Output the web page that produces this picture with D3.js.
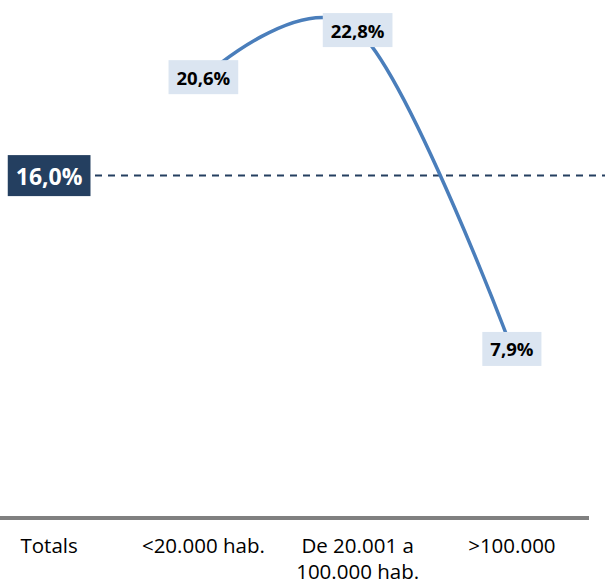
<!DOCTYPE html>
<html>
<head>
<meta charset="utf-8">
<script src="https://cdn.jsdelivr.net/npm/d3@7/dist/d3.min.js"></script>
<style>
  html, body { margin: 0; padding: 0; background: #ffffff; }
  svg { display: block; }
</style>
</head>
<body>
<div id="chart"></div>
<script>
// ---- data ----
const categories = ["Totals", "<20.000 hab.", "De 20.001 a 100.000 hab.", ">100.000"];
const totalValue = 16.0;
const seriesCategories = ["<20.000 hab.", "De 20.001 a 100.000 hab.", ">100.000"];
const seriesValues = [20.6, 22.8, 7.9];
const yDomain = [0, 25];

const fmt = v => d3.format(".1f")(v).replace(".", ",") + "%";

// ---- layout ----
const W = 605, H = 587;
const svg = d3.select("#chart").append("svg").attr("width", W).attr("height", H);

const x = d3.scalePoint().domain(categories).range([-28, 589]).padding(0.5);
const y = d3.scaleLinear().domain(yDomain).range([518, 518 - 25 * 21.4]);

const FONT = "'Open Sans', 'Noto Sans', sans-serif";

// axis line
const axis = svg.append("g").attr("transform", `translate(0,${y(0)})`)
  .call(d3.axisBottom(x).tickSize(0).tickPadding(0).tickFormat(""));
axis.select(".domain").attr("d", `M0,0H589`).attr("stroke", "#808080").attr("stroke-width", 4);

// category labels with wrapping
const lab = svg.append("g");
categories.forEach(c => {
  const t = lab.append("text")
    .attr("x", x(c)).attr("y", 553)
    .attr("text-anchor", "middle")
    .attr("font-family", FONT).attr("font-size", 20.5).attr("fill", "#000");
  const words = c.split(" ");
  let line = [];
  let tspan = t.append("tspan").attr("x", x(c)).attr("dy", 0);
  words.forEach(w => {
    line.push(w);
    tspan.text(line.join(" "));
    if (tspan.node().getComputedTextLength() > 140 && line.length > 1) {
      line.pop();
      tspan.text(line.join(" "));
      line = [w];
      tspan = t.append("tspan").attr("x", x(c)).attr("dy", 26).text(w);
    }
  });
});

// dashed total line
svg.append("line")
  .attr("x1", 95).attr("x2", W)
  .attr("y1", y(totalValue)).attr("y2", y(totalValue))
  .attr("stroke", "#243f60").attr("stroke-width", 2)
  .attr("stroke-dasharray", "7,6");

// series line (smoothed)
const pts = seriesCategories.map((c, i) => [x(c), y(seriesValues[i])]);
svg.append("path")
  .attr("d", d3.line().curve(d3.curveCardinal.tension(0))(pts))
  .attr("fill", "none").attr("stroke", "#4a7ebb").attr("stroke-width", 3.5)
  .attr("stroke-linecap", "round");

// data labels
function label(cx, cy, text, size, fill, color, padX, h) {
  const g = svg.append("g");
  const t = g.append("text").attr("x", cx).attr("y", cy)
    .attr("text-anchor", "middle").attr("dominant-baseline", "central")
    .attr("font-family", FONT).attr("font-weight", "bold")
    .attr("font-size", size).attr("fill", color).text(text);
  const w = t.node().getComputedTextLength() + padX * 2;
  g.insert("rect", "text").attr("x", cx - w / 2).attr("y", cy - h / 2)
    .attr("width", w).attr("height", h).attr("fill", fill);
}

seriesCategories.forEach((c, i) => {
  label(x(c), y(seriesValues[i]), fmt(seriesValues[i]), 18.5, "#dbe5f1", "#000", 8, 34);
});
label(x("Totals"), y(totalValue), fmt(totalValue), 23, "#243f60", "#fff", 8, 41);
</script>
</body>
</html>
